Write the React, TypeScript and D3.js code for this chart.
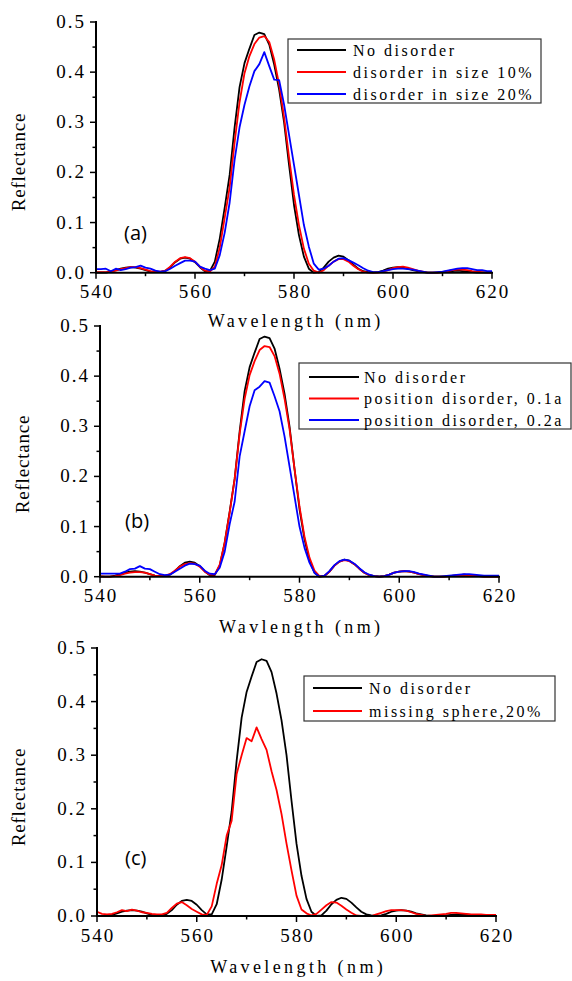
import React from "react";
import * as d3 from "d3";

const wavelengths = [
  540, 541, 542, 543, 544, 545, 546, 547, 548, 549, 550, 551, 552, 553, 554, 555, 556, 557, 558, 559,
  560, 561, 562, 563, 564, 565, 566, 567, 568, 569, 570, 571, 572, 573, 574, 575, 576, 577, 578, 579,
  580, 581, 582, 583, 584, 585, 586, 587, 588, 589, 590, 591, 592, 593, 594, 595, 596, 597, 598, 599,
  600, 601, 602, 603, 604, 605, 606, 607, 608, 609, 610, 611, 612, 613, 614, 615, 616, 617, 618, 619, 620,
];

const noDisorder = [
  0.000, 0.000, 0.000, 0.002, 0.005, 0.008, 0.010, 0.011, 0.010, 0.008, 0.005, 0.002, 0.001, 0.001, 0.004, 0.011, 0.021, 0.028, 0.030, 0.028,
  0.021, 0.011, 0.003, 0.003, 0.022, 0.068, 0.130, 0.195, 0.290, 0.370, 0.418, 0.447, 0.474, 0.479, 0.476, 0.455, 0.415, 0.365, 0.300, 0.215,
  0.135, 0.075, 0.032, 0.008, 0.000, 0.001, 0.010, 0.022, 0.030, 0.034, 0.032, 0.025, 0.016, 0.008, 0.003, 0.001, 0.000, 0.001, 0.004, 0.008,
  0.010, 0.011, 0.010, 0.008, 0.005, 0.003, 0.001, 0.000, 0.000, 0.000, 0.001, 0.002, 0.003, 0.004, 0.003, 0.002, 0.001, 0.000, 0.000, 0.000, 0.000,
];

const sizeDisorder10 = [
  0.001, 0.001, 0.001, 0.002, 0.004, 0.007, 0.009, 0.011, 0.011, 0.009, 0.006, 0.003, 0.002, 0.002, 0.004, 0.012, 0.022, 0.029, 0.031, 0.029,
  0.022, 0.012, 0.004, 0.002, 0.012, 0.050, 0.110, 0.170, 0.260, 0.340, 0.398, 0.432, 0.456, 0.469, 0.472, 0.460, 0.425, 0.375, 0.310, 0.230,
  0.155, 0.095, 0.048, 0.018, 0.004, 0.000, 0.005, 0.014, 0.022, 0.027, 0.027, 0.022, 0.014, 0.007, 0.002, 0.000, 0.000, 0.000, 0.002, 0.005,
  0.009, 0.011, 0.012, 0.010, 0.007, 0.004, 0.002, 0.000, 0.000, 0.000, 0.001, 0.003, 0.005, 0.006, 0.006, 0.005, 0.003, 0.002, 0.001, 0.000, 0.000,
];

const sizeDisorder20 = [
  0.007, 0.007, 0.008, 0.003, 0.008, 0.005, 0.007, 0.010, 0.011, 0.014, 0.010, 0.008, 0.004, 0.002, 0.003, 0.008, 0.014, 0.019, 0.024, 0.024,
  0.022, 0.012, 0.008, 0.005, 0.008, 0.035, 0.080, 0.140, 0.225, 0.290, 0.335, 0.372, 0.402, 0.416, 0.440, 0.412, 0.385, 0.384, 0.335, 0.275,
  0.215, 0.155, 0.095, 0.052, 0.018, 0.006, 0.008, 0.014, 0.022, 0.028, 0.029, 0.025, 0.020, 0.015, 0.009, 0.004, 0.001, 0.001, 0.003, 0.005,
  0.007, 0.008, 0.008, 0.007, 0.006, 0.004, 0.002, 0.000, 0.000, 0.001, 0.002, 0.004, 0.006, 0.008, 0.009, 0.009, 0.007, 0.005, 0.005, 0.003, 0.003,
];

const positionDisorder01 = [
  0.001, 0.000, 0.000, 0.001, 0.003, 0.006, 0.008, 0.009, 0.009, 0.008, 0.005, 0.002, 0.001, 0.002, 0.005, 0.012, 0.020, 0.025, 0.027, 0.026,
  0.020, 0.010, 0.004, 0.004, 0.024, 0.068, 0.128, 0.195, 0.285, 0.355, 0.402, 0.430, 0.452, 0.460, 0.458, 0.440, 0.405, 0.355, 0.295, 0.215,
  0.140, 0.080, 0.038, 0.012, 0.001, 0.002, 0.010, 0.022, 0.030, 0.033, 0.031, 0.025, 0.016, 0.008, 0.003, 0.001, 0.000, 0.001, 0.004, 0.008,
  0.010, 0.011, 0.010, 0.008, 0.005, 0.003, 0.001, 0.000, 0.000, 0.000, 0.001, 0.002, 0.003, 0.004, 0.003, 0.002, 0.001, 0.000, 0.000, 0.000, 0.000,
];

const positionDisorder02 = [
  0.006, 0.006, 0.006, 0.006, 0.006, 0.010, 0.015, 0.016, 0.021, 0.016, 0.015, 0.010, 0.005, 0.003, 0.004, 0.010, 0.016, 0.022, 0.026, 0.025,
  0.022, 0.012, 0.006, 0.005, 0.018, 0.050, 0.105, 0.150, 0.240, 0.290, 0.340, 0.372, 0.379, 0.390, 0.387, 0.360, 0.330, 0.280, 0.220, 0.160,
  0.100, 0.058, 0.028, 0.008, 0.000, 0.002, 0.011, 0.023, 0.031, 0.034, 0.032, 0.026, 0.017, 0.009, 0.004, 0.001, 0.000, 0.001, 0.004, 0.008,
  0.010, 0.011, 0.011, 0.009, 0.006, 0.004, 0.002, 0.000, 0.000, 0.001, 0.002, 0.003, 0.004, 0.005, 0.005, 0.004, 0.003, 0.002, 0.002, 0.002, 0.002,
];

const missingSphere20 = [
  0.008, 0.004, 0.003, 0.004, 0.007, 0.011, 0.009, 0.012, 0.010, 0.007, 0.006, 0.004, 0.003, 0.003, 0.006, 0.015, 0.023, 0.026, 0.020, 0.013,
  0.008, 0.003, 0.002, 0.018, 0.060, 0.095, 0.150, 0.178, 0.265, 0.300, 0.332, 0.326, 0.352, 0.330, 0.310, 0.270, 0.235, 0.190, 0.135, 0.085,
  0.038, 0.012, 0.005, 0.001, 0.004, 0.012, 0.020, 0.026, 0.025, 0.019, 0.012, 0.006, 0.001, 0.000, 0.000, 0.000, 0.003, 0.006, 0.009, 0.011,
  0.011, 0.011, 0.010, 0.007, 0.004, 0.002, 0.000, 0.001, 0.002, 0.003, 0.004, 0.006, 0.006, 0.005, 0.004, 0.003, 0.003, 0.003, 0.002, 0.002, 0.002,
];

const xTicks = [540, 560, 580, 600, 620];
const xMinorTicks = [550, 570, 590, 610];
const yTicks = [0, 0.1, 0.2, 0.3, 0.4, 0.5];
const yMinorTicks = [0.05, 0.15, 0.25, 0.35, 0.45];

const legendA = ["No disorder", "disorder in size 10%", "disorder in size 20%"];
const legendB = ["No disorder", "position disorder, 0.1a", "position disorder, 0.2a"];
const legendC = ["No disorder", "missing sphere,20%"];

const BLACK = "#000000";
const RED = "#ff0000";
const BLUE = "#0000ff";
const SERIF = "Liberation Serif, Tinos, Times New Roman, DejaVu Serif, serif";
const SANS = "Open Sans, Liberation Sans, sans-serif";

type Series = { name: string; values: number[]; color: string };

type PanelCfg = {
  x0: number; x1: number; yTop: number; yBot: number;
  tickBase: number; titleBase: number; title: string;
  yTitleX: number; yTitleY: number;
  label: string; labelX: number; labelY: number;
  lg: { x0: number; x1: number; y0: number; y1: number; rows: number[]; lx0: number; lx1: number; tx: number };
  series: Series[];
};

const serifStyle = (size: number, spacing: number): React.CSSProperties => ({
  fontFamily: SERIF,
  fontSize: size,
  letterSpacing: spacing,
});

function Panel({ c }: { c: PanelCfg }) {
  const x = d3.scaleLinear().domain([540, 620]).range([c.x0, c.x1]);
  const y = d3.scaleLinear().domain([0, 0.5]).range([c.yBot, c.yTop]);
  const line = d3
    .line<number>()
    .x((_, i) => x(wavelengths[i]))
    .y((d) => y(d));
  const fmt = d3.format(".1f");
  const ls = 2;
  return (
    <g>
      {c.series.map((s) => (
        <path key={s.name} d={line(s.values) || ""} fill="none" stroke={s.color} strokeWidth={1.8} strokeLinejoin="round" />
      ))}
      <line x1={c.x0} x2={c.x1 + 1} y1={c.yBot} y2={c.yBot} stroke="#000" strokeWidth={2} />
      <line x1={c.x0} x2={c.x0} y1={c.yTop - 1} y2={c.yBot + 1} stroke="#000" strokeWidth={2} />
      {xTicks.map((t) => (
        <g key={"xt" + t}>
          <line x1={x(t)} x2={x(t)} y1={c.yBot} y2={c.yBot + 6} stroke="#000" strokeWidth={1.5} />
          <text x={x(t) + ls / 2} y={c.tickBase} textAnchor="middle" style={serifStyle(19, ls)} fill="#000">
            {t}
          </text>
        </g>
      ))}
      {xMinorTicks.map((t) => (
        <line key={"xm" + t} x1={x(t)} x2={x(t)} y1={c.yBot} y2={c.yBot + 3.5} stroke="#000" strokeWidth={1.5} />
      ))}
      {yTicks.map((t) => (
        <g key={"yt" + t}>
          <line x1={c.x0 - 6} x2={c.x0} y1={y(t)} y2={y(t)} stroke="#000" strokeWidth={1.5} />
          <text x={c.x0 - 12 + ls} y={y(t) + 6} textAnchor="end" style={serifStyle(19, ls)} fill="#000">
            {fmt(t)}
          </text>
        </g>
      ))}
      {yMinorTicks.map((t) => (
        <line key={"ym" + t} x1={c.x0 - 3.5} x2={c.x0} y1={y(t)} y2={y(t)} stroke="#000" strokeWidth={1.5} />
      ))}
      <text x={(c.x0 + c.x1) / 2 + 1.7} y={c.titleBase} textAnchor="middle" style={serifStyle(18, 3.4)} fill="#000">
        {c.title}
      </text>
      <text
        transform={`translate(${c.yTitleX},${c.yTitleY}) rotate(-90)`}
        textAnchor="middle"
        style={serifStyle(19, 0.8)}
        fill="#000"
      >
        Reflectance
      </text>
      <text x={c.labelX} y={c.labelY} style={{ fontFamily: SANS, fontSize: 20 }} fill="#000">
        {c.label}
      </text>
      <rect x={c.lg.x0} y={c.lg.y0} width={c.lg.x1 - c.lg.x0} height={c.lg.y1 - c.lg.y0} fill="#fff" stroke="#333" strokeWidth={1.2} />
      {c.series.map((s, i) => (
        <g key={"lg" + s.name}>
          <line x1={c.lg.lx0} x2={c.lg.lx1} y1={c.lg.rows[i]} y2={c.lg.rows[i]} stroke={s.color} strokeWidth={1.8} />
          <text x={c.lg.tx} y={c.lg.rows[i] + 5.5} style={serifStyle(16, 2.5)} fill="#000">
            {s.name}
          </text>
        </g>
      ))}
    </g>
  );
}

export default function App() {
  const panels: PanelCfg[] = [
    {
      x0: 96, x1: 492, yTop: 22, yBot: 272.7, tickBase: 298, titleBase: 327, title: "Wavelength (nm)",
      yTitleX: 25, yTitleY: 162, label: "(a)", labelX: 124, labelY: 240,
      lg: { x0: 288, x1: 541, y0: 39, y1: 103, rows: [50, 72, 94], lx0: 297, lx1: 346, tx: 353 },
      series: [
        { name: legendA[0], values: noDisorder, color: BLACK },
        { name: legendA[1], values: sizeDisorder10, color: RED },
        { name: legendA[2], values: sizeDisorder20, color: BLUE },
      ],
    },
    {
      x0: 100, x1: 499, yTop: 326, yBot: 576.7, tickBase: 602, titleBase: 633, title: "Wavlength (nm)",
      yTitleX: 29, yTitleY: 464, label: "(b)", labelX: 125, labelY: 528,
      lg: { x0: 299, x1: 571, y0: 363, y1: 429, rows: [377, 398.5, 420], lx0: 309, lx1: 359, tx: 364 },
      series: [
        { name: legendB[0], values: noDisorder, color: BLACK },
        { name: legendB[1], values: positionDisorder01, color: RED },
        { name: legendB[2], values: positionDisorder02, color: BLUE },
      ],
    },
    {
      x0: 97, x1: 496, yTop: 648, yBot: 916, tickBase: 942, titleBase: 973, title: "Wavelength (nm)",
      yTitleX: 25, yTitleY: 797, label: "(c)", labelX: 125, labelY: 865,
      lg: { x0: 304, x1: 555, y0: 676, y1: 721, rows: [688, 711], lx0: 313, lx1: 362, tx: 369 },
      series: [
        { name: legendC[0], values: noDisorder, color: BLACK },
        { name: legendC[1], values: missingSphere20, color: RED },
      ],
    },
  ];
  return (
    <svg width={572} height={981} style={{ position: "absolute", left: 0, top: 0, background: "#fff" }}>
      <rect x={0} y={0} width={572} height={981} fill="#fff" />
      {panels.map((p) => (
        <Panel key={p.label} c={p} />
      ))}
    </svg>
  );
}
